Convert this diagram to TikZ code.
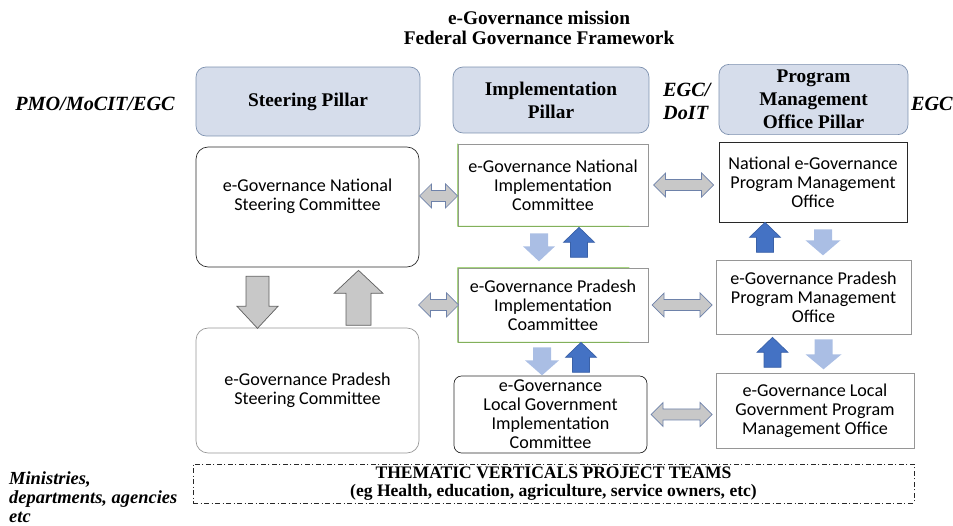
\documentclass[tikz,border=0pt]{standalone}
\usepackage{fontspec}
\setmainfont{Liberation Serif}
\newfontfamily\calfont{Carlito}
\usepackage{xcolor}
\usetikzlibrary{
    positioning,
    calc
}
\definecolor{pillarfill}{RGB}{214,221,235}
\definecolor{pillarline}{RGB}{125,145,175}
\definecolor{boxgrey}{RGB}{150,150,150}
\definecolor{boxdark}{RGB}{40,40,40}
\definecolor{edgegreen}{RGB}{120,190,60}
\definecolor{arrowgrey}{RGB}{200,200,200}
\definecolor{dblline}{RGB}{110,130,170}
\definecolor{bigline}{RGB}{95,95,95}
\definecolor{lightblue}{RGB}{170,190,228}
\definecolor{darkblue}{RGB}{68,114,196}
\tikzset{
  pillar/.style = {
      draw=pillarline,
      fill=pillarfill,
      rounded corners=0.2cm,
      align=center,
      font=\bfseries\fontsize{11}{13}\selectfont
  },
  box/.style = {
      draw=boxgrey,
      fill=white,
      align=center,
      inner sep=1pt,
      font=\calfont\fontsize{10.3}{10.8}\selectfont
  },
  darkbox/.style = {
      box,
      draw=boxdark
  },
  steer/.style = {
      box,
      rounded corners=0.24cm,
      minimum width=4.46cm
  },
  side/.style = {
      align=left,
      font=\bfseries\itshape\fontsize{11.5}{13}\selectfont
  },
  headline/.style = {
      align=center,
      font=\bfseries\fontsize{11}{11.4}\selectfont
  },
  dblgrey/.style = {
      draw=dblline,
      fill=arrowgrey
  },
  biggrey/.style = {
      draw=bigline,
      fill=arrowgrey
  },
  lightdown/.style = {
      fill=lightblue,
      rotate=180
  },
  darkup/.style = {
      fill=darkblue,
      draw=darkblue!85!black
  },
  % double block arrow, #1 = length
  pics/dblarrow/.style = {
      code = {
        \path[pic actions] ({-#1/2},0) -- ++(12,-12) -- ++(0,6.5) -- ++({#1-24},0)
          -- ++(0,-6.5) -- ++(12,12) -- ++(-12,12) -- ++(0,-6.5)
          -- ++({24-#1},0) -- ++(0,6.5) -- cycle;
      }
  },
  % upward block arrow: length, head width, shaft width, head length
  pics/blockarrow/.style n args = {4}{
      code = {
        \path[pic actions] ({-#3/2},{#1/2}) -- ({-#3/2},{-#1/2+#4}) -- ({-#2/2},{-#1/2+#4})
          -- (0,{-#1/2}) -- ({#2/2},{-#1/2+#4}) -- ({#3/2},{-#1/2+#4})
          -- ({#3/2},{#1/2}) -- cycle;
      }
  }
}

\begin{document}
\begin{tikzpicture}[x=0.02cm, y=-0.02cm]
        \useasboundingbox (0,0) rectangle (953,526);
        % Titles
        \node[headline] (title) at (539,28) {e-Governance mission\\Federal Governance Framework};
        % Pillars
        \node[pillar, minimum width=4.48cm, minimum height=1.38cm] (sp) at (308,101.5) {Steering Pillar};
        \node[pillar, minimum width=3.92cm, minimum height=1.32cm] (ip) at (551,100) {Implementation\\Pillar};
        \node[pillar, minimum width=3.78cm, minimum height=1.34cm] (pp) at (813.5,99.5) {Program\\Management\\Office Pillar};
        \node[side] (pmo) at (95,104) {PMO/MoCIT/EGC};
        \node[side, anchor=west] (doit) at (657,101) {EGC/\\DoIT};
        \node[side, anchor=east, inner xsep=0pt] (egc) at (953,104) {EGC};
        % Committees
        \node[steer, draw=boxdark, minimum height=2.4cm] (nsc) at (307.5,207) {e-Governance National\\Steering Committee\\ \strut};
        \node[steer, minimum height=2.5cm] (psc) at (307.5,390.5) {e-Governance Pradesh\\Steering Committee};
        \node[box, minimum width=3.8cm, minimum height=1.64cm] (nic) at (553,185) {e-Governance National\\Implementation\\Committee};
        \node[box, minimum width=3.8cm, minimum height=1.48cm] (pic) at (553,305) {e-Governance Pradesh\\Implementation\\Coammittee};
        \node[darkbox, rounded corners=0.15cm, inner ysep=0pt, minimum width=3.86cm, minimum height=1.54cm] (lic) at (550.5,414.5) {e-Governance\\Local Government\\Implementation\\Committee};
        \node[darkbox, minimum width=3.76cm, minimum height=1.6cm] (npmo) at (813,182) {National e-Governance\\Program Management\\Office};
        \node[box, minimum width=3.9cm, minimum height=1.48cm] (ppmo) at (813.5,297) {e-Governance Pradesh\\Program Management\\Office};
        \node[box, minimum width=3.96cm, minimum height=1.5cm] (lpmo) at (815,410.5) {e-Governance Local\\Government Program\\Management Office};
        \draw[edgegreen] ($(nic.south west)!0.9!(nic.south east)$) -- (nic.south west) -- (nic.north west);
        \draw[edgegreen] ($(pic.north west)!0.9!(pic.north east)$) -- (pic.north west) -- (pic.south west) -- ($(pic.south west)!0.9!(pic.south east)$);
        % Teams
        \node[draw=boxdark, dash pattern=on 0.1cm off 0.05cm on 0.02cm off 0.05cm, minimum width=14.42cm, minimum height=0.78cm, align=center, inner sep=0pt, font=\bfseries\fontsize{10}{10.2}\selectfont] (tv) at (553.5,483.5) {THEMATIC VERTICALS PROJECT TEAMS\\(eg Health, education, agriculture, service owners, etc)};
        \node[side, anchor=west, font=\bfseries\itshape\fontsize{10.5}{10.8}\selectfont] (mda) at (3,497) {Ministries,\\departments, agencies\\etc};
        % Side arrows
        \pic[dblgrey] at ($(nsc.east)!0.5!(nic.west)$) {dblarrow=38};
        \pic[dblgrey] at ($(nic.east)!0.5!(nic.east -| npmo.west)$) {dblarrow=60};
        \pic[dblgrey] at ($(psc.east |- pic.west)!0.5!(pic.west)$) {dblarrow=40};
        \pic[dblgrey] at ($(pic.east)!0.5!(pic.east -| ppmo.west)$) {dblarrow=60};
        \pic[dblgrey] at ($(lic.east)!0.5!(lic.east -| lpmo.west)$) {dblarrow=61};
        % Up and down arrows
        \pic[biggrey, rotate=180] at ($(nsc.south)+(-50,35)$) {blockarrow={52}{41}{23}{22}};
        \pic[biggrey] at ($(nsc.south)+(51,30.5)$) {blockarrow={55}{49}{25}{23}};
        \pic[lightdown] at ($(nic.south)+(-14,21)$) {blockarrow={28}{32}{18}{15}};
        \pic[darkup] at ($(nic.south)+(26,16)$) {blockarrow={30}{31}{17}{15}};
        \pic[lightdown] at ($(pic.south)+(-11,19)$) {blockarrow={28}{34}{18}{15}};
        \pic[darkup] at ($(pic.south)+(28,15)$) {blockarrow={30}{31}{17}{15}};
        \pic[darkup] at ($(npmo.south)+(-48,15)$) {blockarrow={30}{31}{17}{15}};
        \pic[lightdown] at ($(npmo.south)+(10,20)$) {blockarrow={26}{35}{18}{15}};
        \pic[darkup] at ($(ppmo.south)+(-41,18)$) {blockarrow={30}{31}{17}{15}};
        \pic[lightdown] at ($(ppmo.south)+(10,20)$) {blockarrow={30}{36}{18}{15}};
    \end{tikzpicture}
\end{document}
